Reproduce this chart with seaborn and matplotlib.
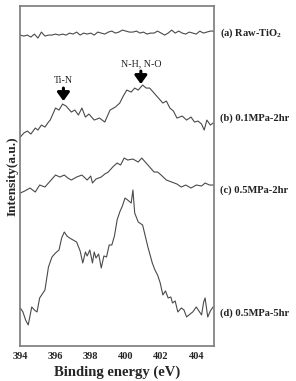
import matplotlib
matplotlib.use("Agg")
import matplotlib.pyplot as plt
import seaborn as sns
import pandas as pd

# Binding energy (eV) and intensity (arbitrary units, stacked offsets as in figure)
E_a = [394.0, 394.2, 394.4, 394.6, 394.8, 395.0, 395.2, 395.4, 395.6, 395.8, 396.0, 396.2,
       396.4, 396.6, 396.8, 397.0, 397.2, 397.4, 397.6, 397.8, 398.0, 398.2, 398.4, 398.6,
       398.8, 399.0, 399.2, 399.4, 399.6, 399.8, 400.0, 400.2, 400.4, 400.6, 400.8, 401.0,
       401.2, 401.4, 401.6, 401.8, 402.0, 402.2, 402.4, 402.6, 402.8, 403.0, 403.2, 403.4,
       403.6, 403.8, 404.0, 404.2, 404.4, 404.6, 404.8, 405.0]
I_a = [311, 310, 311, 309, 312, 308, 314, 310, 311, 311, 312, 311, 312, 311, 313, 312, 314,
       311, 313, 312, 313, 311, 314, 313, 312, 314, 315, 313, 314, 316, 315, 314, 314, 315,
       313, 314, 312, 313, 313, 315, 313, 311, 313, 316, 313, 315, 313, 312, 314, 313, 312,
       315, 313, 314, 315, 315]

E_b = [394.0, 394.2, 394.4, 394.6, 394.85, 395.0, 395.2, 395.4, 395.6, 395.7, 395.85, 396.0,
       396.2, 396.4, 396.6, 396.9, 397.1, 397.3, 397.5, 397.7, 397.9, 398.2, 398.5, 398.8,
       399.1, 399.4, 399.65, 399.85, 400.05, 400.3, 400.5, 400.7, 400.95, 401.15, 401.35,
       401.65, 401.9, 402.1, 402.3, 402.5, 402.7, 402.9, 403.2, 403.45, 403.7, 403.9, 404.1,
       404.3, 404.45, 404.6, 404.8, 404.95]
I_b = [209, 213, 215, 212, 218, 216, 221, 219, 224, 226, 232, 238, 236, 242, 240, 234, 236,
       231, 238, 229, 232, 226, 228, 224, 236, 239, 243, 250, 256, 254, 258, 256, 261, 258,
       258, 252, 247, 243, 245, 238, 235, 228, 230, 226, 229, 224, 225, 222, 216, 226, 221, 223]

E_c = [394.0, 394.25, 394.55, 394.85, 395.1, 395.4, 395.7, 396.0, 396.25, 396.5, 396.7,
       396.9, 397.2, 397.5, 397.8, 398.0, 398.1, 398.3, 398.6, 398.8, 399.0, 399.25, 399.5,
       399.7, 399.9, 400.1, 400.4, 400.7, 400.9, 401.2, 401.4, 401.6, 401.8, 402.0, 402.3,
       402.6, 402.9, 403.15, 403.4, 403.7, 404.0, 404.3, 404.5, 404.75, 405.0]
I_c = [153, 155, 158, 154, 161, 159, 165, 171, 169, 171, 168, 166, 169, 171, 166, 170, 163,
       167, 169, 172, 174, 179, 183, 181, 188, 186, 187, 184, 188, 182, 178, 174, 174, 171,
       166, 164, 162, 159, 161, 158, 161, 160, 163, 161, 161]

E_d = [394.0, 394.15, 394.3, 394.45, 394.65, 394.8, 394.95, 395.1, 395.25, 395.4, 395.6,
       395.8, 396.0, 396.2, 396.35, 396.5, 396.65, 396.8, 397.0, 397.2, 397.4, 397.55, 397.7,
       397.8, 397.95, 398.1, 398.2, 398.3, 398.45, 398.6, 398.75, 398.9, 399.05, 399.2,
       399.35, 399.5, 399.65, 399.8, 399.95, 400.1, 400.3, 400.4, 400.5, 400.7, 400.95,
       401.1, 401.25, 401.5, 401.65, 401.8, 401.95, 402.1, 402.25, 402.4, 402.55, 402.65,
       402.8, 402.95, 403.15, 403.3, 403.45, 403.65, 403.8, 404.0, 404.15, 404.3, 404.42,
       404.5, 404.65, 404.8, 404.95]
I_d = [38, 34, 26, 21, 39, 36, 34, 48, 52, 56, 79, 89, 93, 96, 108, 114, 110, 108, 106, 104,
       95, 83, 94, 90, 96, 83, 94, 88, 92, 78, 90, 89, 101, 101, 110, 126, 134, 140, 148,
       146, 143, 156, 133, 124, 121, 110, 99, 83, 76, 71, 63, 51, 55, 48, 49, 43, 45, 34,
       38, 36, 29, 32, 34, 39, 35, 31, 44, 48, 29, 35, 39]

labels = ["(a) Raw-TiO$_\\mathbf{2}$", "(b) 0.1MPa-2hr", "(c) 0.5MPa-2hr", "(d) 0.5MPa-5hr"]
label_y = [313, 228, 156, 33]
xticks = [394, 396, 398, 400, 402, 404]

sns.set_theme(style="white")
plt.rcParams["font.family"] = ["Liberation Serif", "DejaVu Serif"]
plt.rcParams["mathtext.fontset"] = "custom"
plt.rcParams["mathtext.rm"] = "Liberation Serif"
plt.rcParams["mathtext.bf"] = "Liberation Serif:bold"

fig = plt.figure(figsize=(2.96, 3.81), dpi=100)
ax = fig.add_axes([0.0686, 0.092, 0.654, 0.892])

line_color = "#4a4a4a"
for E, I in [(E_a, I_a), (E_b, I_b), (E_c, I_c), (E_d, I_d)]:
    df = pd.DataFrame({"E": E, "I": I})
    sns.lineplot(data=df, x="E", y="I", ax=ax, color=line_color, linewidth=0.8,
                 estimator=None, sort=False)

ax.set_xlim(394, 405)
ax.set_ylim(0, 340)
ax.set_xticks(xticks)
ax.set_xticklabels([str(t) for t in xticks], fontsize=7.5, fontweight="bold")
ax.set_yticks([])
ax.tick_params(axis="x", direction="out", length=3, width=0.8, color="#777777", pad=1.5)
ax.set_xlabel("Binding energy (eV)", fontsize=10.5, fontweight="bold", labelpad=3)
ax.set_ylabel("Intensity(a.u.)", fontsize=9.5, fontweight="bold", labelpad=1)
for s in ax.spines.values():
    s.set_color("#7a7a7a")
    s.set_linewidth(1.2)

for lab, y in zip(labels, label_y):
    ax.text(1.03, y, lab, transform=ax.get_yaxis_transform(), fontsize=7.6,
            fontweight="bold", va="center", ha="left", color="#222222")

arrow_props = dict(arrowstyle="-|>,head_width=0.4,head_length=0.55", lw=2.2,
                   mutation_scale=9, color="black", shrinkA=0, shrinkB=0)
ax.annotate("", xy=(396.45, 245), xytext=(396.45, 258), arrowprops=arrow_props)
ax.text(396.45, 261, "Ti-N", fontsize=7.2, ha="center", va="bottom", color="#222222")
ax.annotate("", xy=(400.85, 262), xytext=(400.85, 275), arrowprops=arrow_props)
ax.text(400.85, 278, "N-H, N-O", fontsize=7.2, ha="center", va="bottom", color="#222222")

fig.savefig("out.png", dpi=100)
